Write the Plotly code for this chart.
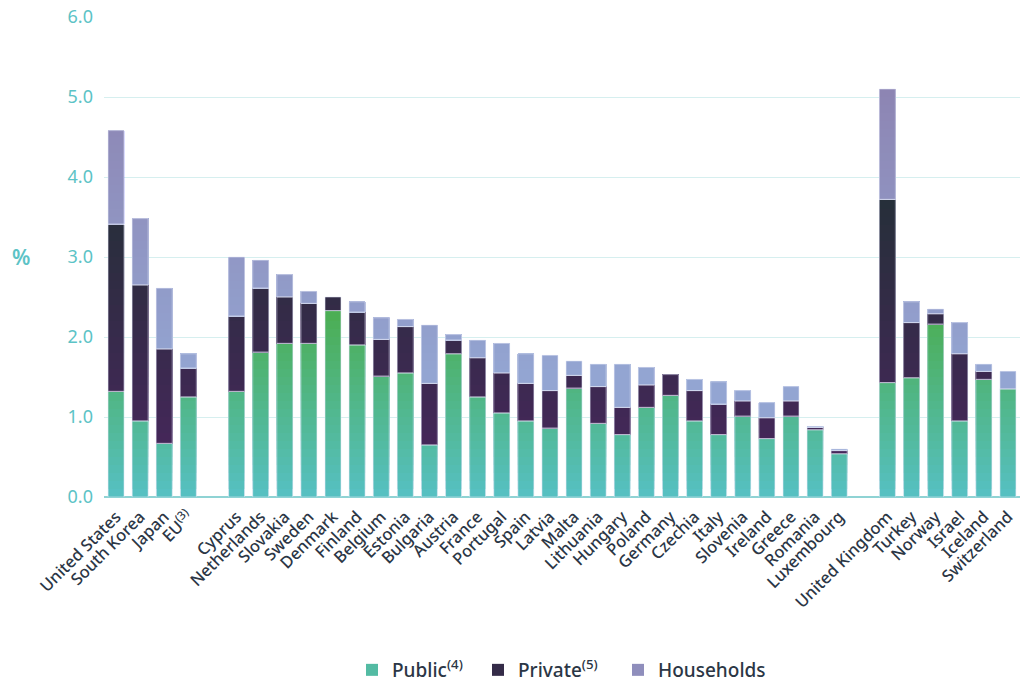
import numpy as np
import plotly.graph_objects as go

# Gross domestic expenditure on R&D by funding source, % of GDP
countries = [
    "United States", "South Korea", "Japan", "EU<sup>(3)</sup>", " ",
    "Cyprus", "Netherlands", "Slovakia", "Sweden", "Denmark", "Finland",
    "Belgium", "Estonia", "Bulgaria", "Austria", "France", "Portugal",
    "Spain", "Latvia", "Malta", "Lithuania", "Hungary", "Poland",
    "Germany", "Czechia", "Italy", "Slovenia", "Ireland", "Greece",
    "Romania", "Luxembourg", "  ",
    "United Kingdom", "Turkey", "Norway", "Israel", "Iceland", "Switzerland",
]
public = [
    1.32, 0.95, 0.67, 1.25, None,
    1.32, 1.81, 1.92, 1.92, 2.33, 1.90,
    1.51, 1.55, 0.65, 1.79, 1.25, 1.05,
    0.95, 0.86, 1.36, 0.92, 0.78, 1.12,
    1.27, 0.95, 0.78, 1.01, 0.73, 1.01,
    0.84, 0.54, None,
    1.43, 1.49, 2.16, 0.95, 1.47, 1.35,
]
private = [
    2.09, 1.70, 1.18, 0.36, None,
    0.94, 0.80, 0.58, 0.50, 0.17, 0.41,
    0.46, 0.58, 0.77, 0.17, 0.49, 0.50,
    0.47, 0.47, 0.16, 0.46, 0.34, 0.28,
    0.26, 0.38, 0.38, 0.19, 0.26, 0.19,
    0.03, 0.04, None,
    2.29, 0.69, 0.13, 0.84, 0.10, 0.00,
]
households = [
    1.17, 0.83, 0.76, 0.18, None,
    0.74, 0.35, 0.28, 0.15, 0.00, 0.13,
    0.27, 0.09, 0.73, 0.07, 0.22, 0.37,
    0.37, 0.44, 0.18, 0.28, 0.54, 0.22,
    0.00, 0.14, 0.28, 0.13, 0.19, 0.18,
    0.01, 0.02, None,
    1.38, 0.26, 0.06, 0.39, 0.09, 0.22,
]

series_names = ["Public<sup>(4)</sup>", "Private<sup>(5)</sup>", "Households"]
y_ticks = [0, 1, 2, 3, 4, 5, 6]

# vertical colour ramps: (y at start, colour at start, y at end, colour at end)
ramps = [
    (0.0, "#56c0c3", 2.25, "#4cae55"),
    (0.6, "#45275a", 3.8, "#252f38"),
    (1.5, "#93a5d2", 5.1, "#8d85b3"),
]

TEAL = "#5cc3c6"
INK = "#2b3645"
FONT = "Noto Sans"


def hex_rgb(h):
    h = h.lstrip("#")
    return np.array([int(h[i:i + 2], 16) for i in (0, 2, 4)], dtype=float)


def ramp_colour(y, ramp):
    y0, c0, y1, c1 = ramp
    t = min(max((y - y0) / (y1 - y0), 0.0), 1.0)
    c = hex_rgb(c0) * (1 - t) + hex_rgb(c1) * t
    return "rgb(%d,%d,%d)" % tuple(np.round(c))


def as_arr(v):
    return np.array([np.nan if x is None else x for x in v], dtype=float)


pub = as_arr(public)
pri = as_arr(private)
hh = as_arr(households)
bottoms = [np.zeros_like(pub), pub, pub + pri]
tops = [pub, pub + pri, pub + pri + hh]

legend_ids = ["legend", "legend2", "legend3"]

fig = go.Figure()

# each stacked segment is painted as a pile of layers, each running from a
# band edge up to the segment top, so the fill follows a vertical colour ramp
step = 0.1
edges = np.round(np.arange(0, 5.3 + step, step), 4)
legend_bands = [6, 22, 40]
for s in range(3):
    lo_s, hi_s = bottoms[s], tops[s]
    for k in range(len(edges) - 1):
        lo, hi = edges[k], edges[k + 1]
        b = np.maximum(lo_s, lo)
        h = hi_s - b
        mask = ~np.isnan(h) & (h > 1e-9)
        show = k == legend_bands[s]
        if not mask.any() and not show:
            continue
        ys = [float(v) if m else None for v, m in zip(h, mask)]
        bs = [float(v) if m else None for v, m in zip(b, mask)]
        col = ramp_colour((lo + hi) / 2, ramps[s])
        fig.add_trace(go.Bar(
            x=countries, y=ys, base=bs,
            marker=dict(color=col, line=dict(width=0)),
            name=series_names[s], legendgroup=series_names[s],
            showlegend=show, legend=legend_ids[s],
            hoverinfo="skip",
        ))

# faint light edge around each segment
for s in range(3):
    h = tops[s] - bottoms[s]
    ys = [float(v) if (not np.isnan(v) and v > 1e-9) else None for v in h]
    bs = [float(v) if not np.isnan(v) else None for v in bottoms[s]]
    fig.add_trace(go.Bar(
        x=countries, y=ys, base=bs,
        marker=dict(color="rgba(0,0,0,0)",
                    line=dict(color="rgba(225,230,245,0.55)", width=1)),
        showlegend=False, hoverinfo="skip",
    ))

fig.add_annotation(
    text="%", x=-0.103, xref="paper", y=3.0, yref="y",
    showarrow=False, font=dict(family=FONT, size=21, color=TEAL, weight=600),
)

labelled = [c for c in countries if c.strip()]


def legend_box(left_px):
    return dict(
        orientation="h",
        x=left_px / 1026, xref="container", xanchor="left",
        y=14 / 684, yref="container", yanchor="middle",
        font=dict(family=FONT, size=19, color=INK, weight=500),
        itemclick=False, itemdoubleclick=False,
        bgcolor="rgba(0,0,0,0)",
    )


fig.update_layout(
    width=1026, height=684,
    margin=dict(l=104, r=6, t=17, b=187, autoexpand=False),
    paper_bgcolor="white", plot_bgcolor="white",
    barmode="overlay", bargap=0.34,
    font=dict(family=FONT, color=INK),
    showlegend=True,
    legend=legend_box(352),
    legend2=legend_box(478),
    legend3=legend_box(618),
    xaxis=dict(
        type="category", categoryorder="array", categoryarray=countries,
        tickvals=labelled, ticktext=labelled,
        tickangle=-45, showgrid=False, ticks="", automargin=False,
        tickfont=dict(family=FONT, size=16.5, color=INK, weight=500),
        ticklabelstandoff=6,
        showline=False, zeroline=False,
    ),
    yaxis=dict(
        range=[0, 6], tickvals=y_ticks,
        ticktext=["%.1f" % v for v in y_ticks],
        tickfont=dict(family=FONT, size=18, color=TEAL),
        gridcolor="#d6efef", gridwidth=1, automargin=False,
        zeroline=True, zerolinecolor="#8fd3d4", zerolinewidth=1.5,
        ticks="", ticklabelstandoff=10, showline=False,
    ),
)

fig.write_html("out.html")
